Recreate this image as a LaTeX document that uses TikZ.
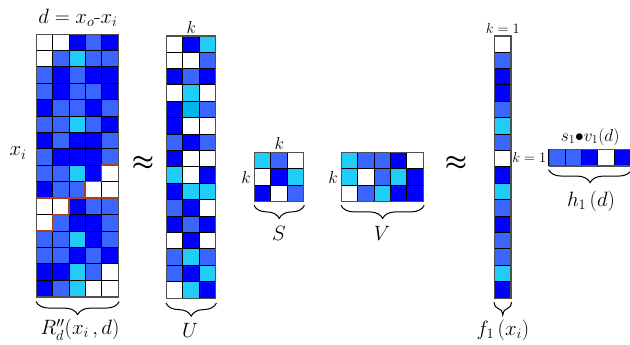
\documentclass[tikz,border=0pt]{standalone}
\usepackage{amsmath}
\usetikzlibrary{positioning, decorations.pathreplacing}
\definecolor{cw}{HTML}{FFFFFF}
\definecolor{cc}{HTML}{20CCF8}
\definecolor{cm}{HTML}{3A66FF}
\definecolor{cb}{HTML}{0000FF}
\definecolor{ct}{HTML}{00B4EC}
\definecolor{cred}{HTML}{A8401A}
\definecolor{cframe}{HTML}{505050}
\newcommand{\cellsz}{16.4}
% one letter per cell: w white, c cyan, m mid blue, b blue, t teal
\newcommand{\cellgrid}[3]{%
  \foreach \rw [count=\ri from 0] in {#3} {
    \foreach \cl [count=\qi from 0] in \rw {
      \path[draw=black, fill=c\cl] ({#1+\qi*\cellsz},{#2+\ri*\cellsz}) rectangle ++(\cellsz,\cellsz);
    }
  }}
\tikzset{
  every picture/.style={line width=0.6pt},
  frame/.style={draw=cframe, line width=1.2pt, inner sep=0pt, anchor=north west},
  brace/.style={decorate, decoration={brace, mirror, amplitude=13pt}, line width=1pt},
  lbl/.style={font=\fontsize{22}{24}\selectfont, inner sep=1pt},
  dim/.style={font=\fontsize{16}{18}\selectfont, inner sep=1pt},
  small/.style={font=\fontsize{14}{16}\selectfont, inner sep=1pt},
  apx/.style={font=\fontsize{27}{30}\selectfont},
  stair/.style={draw=cred, line width=1.6pt},
}
\begin{document}
\begin{tikzpicture}[x=1pt, y=-1pt]
  \useasboundingbox (0,0) rectangle (630,345);

  % R matrix
  \cellgrid{36}{34}{{w,w,b,m,b},{w,m,c,m,m},{m,b,m,b,b},{m,b,m,m,b},{b,m,m,b,m},{m,m,c,m,b},{b,m,b,b,m},{m,b,b,b,m},
    {m,m,c,b,w},{b,m,m,w,w},{w,w,b,m,m},{w,m,b,b,m},{m,m,c,b,m},{m,m,b,m,b},{b,b,c,m,w},{b,m,c,w,w}}
  \node[frame, minimum width=82pt, minimum height=262.4pt] (R) at (36,34) {};
  \draw[stair] (118,165.2) -- (101.6,165.2) -- (101.6,181.6) -- (85.2,181.6) -- (85.2,198) -- (36,198);
  \draw[stair] (85.2,198) -- (118,198);
  \draw[stair] (68.8,198) -- (68.8,214.4) -- (52.4,214.4) -- (52.4,230.8) -- (36,230.8);
  \node[lbl, font=\fontsize{21}{24}\selectfont] (dlab) at (78,18) {$d = x_o$-$x_i$};
  \node[lbl] (xlab) at (18,153) {$x_i$};
  \draw[brace] ([yshift=-4pt]R.south west) -- ([yshift=-4pt]R.south east);
  \node[lbl] (Rlab) at (80,330) {$R''_d(x_i\,,d)$};

  \node[apx] (ap1) at (143,163) {$\boldsymbol{\approx}$};

  % U matrix
  \cellgrid{166}{35.5}{{w,b,c},{w,w,m},{b,m,b},{w,c,w},{b,t,m},{b,w,w},{m,b,m},{b,w,w},
    {c,w,b},{b,c,c},{m,b,w},{b,m,b},{w,b,w},{m,c,m},{m,b,c},{w,c,b}}
  \node[frame, minimum width=49.2pt, minimum height=262.4pt] (U) at (166,35.5) {};
  \node[dim, above=1pt of U] (Uk) {$k$};
  \draw[brace] ([yshift=-4pt]U.south west) -- ([yshift=-4pt]U.south east);
  \node[lbl] (Ulab) at (190,330) {$U$};

  % S matrix
  \cellgrid{254}{152}{{c,m,w},{w,b,c},{b,w,m}}
  \node[frame, minimum width=49.2pt, minimum height=49.2pt] (S) at (254,152) {};
  \node[dim, above=1pt of S] (Sk) {$k$};
  \node[dim, left=2pt of S] (Sk2) {$k$};
  \draw[brace] ([yshift=-3pt]S.south west) -- ([yshift=-3pt]S.south east);
  \node[lbl] (Slab) at (279,233) {$S$};

  % V matrix
  \cellgrid{341}{152}{{c,m,m,b,w},{c,w,m,c,b},{w,m,c,b,b}}
  \node[frame, minimum width=82pt, minimum height=49.2pt] (V) at (341,152) {};
  \node[dim, left=2pt of V] (Vk) {$k$};
  \draw[brace] ([yshift=-3pt]V.south west) -- ([yshift=-3pt]V.south east);
  \node[lbl] (Vlab) at (382,233) {$V$};

  \node[apx] (ap2) at (456,163) {$\boldsymbol{\approx}$};

  % f column
  \cellgrid{494}{35.5}{{w},{m},{b},{b},{m},{c},{m},{w},{b},{c},{m},{b},{m},{m},{c},{b}}
  \node[frame, minimum width=16.4pt, minimum height=262.4pt] (F) at (494,35.5) {};
  \node[small, above=1pt of F] (Fk) {$k=1$};
  \draw[brace] ([yshift=-3pt]F.south west) -- ([yshift=-3pt]F.south east);
  \node[lbl] (Flab) at (503,330) {$f_1\,(x_i)$};

  % h row
  \cellgrid{548.5}{149}{{m,m,b,w,b}}
  \node[frame, minimum width=82pt, minimum height=16.4pt] (H) at (548.5,149) {};
  \node[small, left=1pt of H] (Hk) {$k=1$};
  \node[lbl, font=\fontsize{18}{20}\selectfont, above=2pt of H] (Hs) {$s_1{\bullet}v_1(d)$};
  \draw[brace] ([yshift=-3pt]H.south west) -- ([yshift=-3pt]H.south east);
  \node[lbl] (Hlab) at (591,201) {$h_1\,(d)$};
\end{tikzpicture}
\end{document}
